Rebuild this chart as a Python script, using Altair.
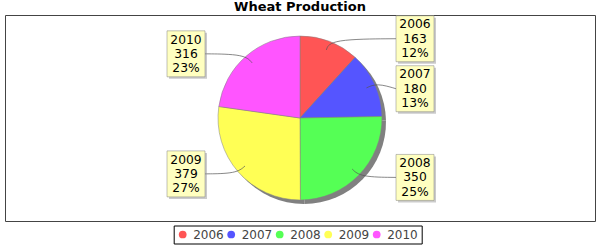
import math
import altair as alt
import pandas as pd

# ---- data ----
years = ["2006", "2007", "2008", "2009", "2010"]
values = [163, 180, 350, 379, 316]
colors = ["#FF5555", "#5555FF", "#55FF55", "#FFFF55", "#FF55FF"]
title_text = "Wheat Production"

# ---- layout (canvas 600x250) ----
W, H = 600, 250
PL, PT, PR, PB = 5, 15, 5, 29
VW, VH = W - PL - PR, H - PT - PB
CX, CY = 300 - PL, 118 - PT      # pie centre in view coords
R = 82                            # pie radius
LABEL_R = 85                      # radius used for label y
LINK_IN = 0.89 * R                # link start inside slice
ELBOW_R = 1.03 * R                # link elbow at pie edge
BOX_W, BOX_H = 38, 46
RIGHT_CX, LEFT_CX = 415 - PL, 186 - PL
MIN_GAP = 50
LINE_H = 14.3

total = sum(values)
recs = []
cum = 0
for i, (yr, v) in enumerate(zip(years, values)):
    a0 = cum / total * 2 * math.pi
    cum += v
    a1 = cum / total * 2 * math.pi
    mid = (a0 + a1) / 2
    pct = round(v / total * 100)
    recs.append(dict(year=yr, value=v, order=i, mid=mid,
                     text=f"{yr}\n{v}\n{pct}%",
                     right=math.sin(mid) >= 0,
                     ly=CY - LABEL_R * math.cos(mid)))

# resolve overlaps on each side
for side in (True, False):
    items = sorted([r for r in recs if r["right"] == side], key=lambda r: r["ly"])
    for j in range(1, len(items)):
        items[j]["ly"] = max(items[j]["ly"], items[j - 1]["ly"] + MIN_GAP)

lab_rows, link_rows = [], []
for r in recs:
    lx = RIGHT_CX if r["right"] else LEFT_CX
    ly = r["ly"]
    bx0, bx1 = lx - BOX_W / 2, lx + BOX_W / 2
    by0, by1 = ly - BOX_H / 2, ly + BOX_H / 2
    lab_rows.append(dict(year=r["year"], text=r["text"], lx=lx, ly=ly,
                         bx0=bx0, bx1=bx1, by0=by0, by1=by1,
                         sx0=bx0 + 2, sx1=bx1 + 2, sy0=by0 + 2, sy1=by1 + 2))
    m = r["mid"]
    sx, sy = CX + LINK_IN * math.sin(m), CY - LINK_IN * math.cos(m)
    ex_, ey_ = CX + ELBOW_R * math.sin(m), CY - ELBOW_R * math.cos(m)
    tx = bx0 if r["right"] else bx1
    pts = [(sx, sy), (ex_, ey_), (tx, ly)]
    for k, (px, py) in enumerate(pts):
        link_rows.append(dict(year=r["year"], idx=k, px=px, py=py))

df = pd.DataFrame({"year": years, "value": values, "order": list(range(len(years)))})
lab_df = pd.DataFrame(lab_rows)
link_df = pd.DataFrame(link_rows)

FONT = "DejaVu Sans"

theta = alt.Theta("value:Q", stack=True)
order = alt.Order("order:Q")

shadow = alt.Chart(df).mark_arc(radius=R, color="#808080").encode(
    theta=theta, order=order, x=alt.value(CX + 4), y=alt.value(CY + 4))

pie = alt.Chart(df).mark_arc(radius=R, stroke="#808080", strokeWidth=0.5).encode(
    theta=theta, order=order, x=alt.value(CX), y=alt.value(CY),
    color=alt.Color("year:N", scale=alt.Scale(domain=years, range=colors),
                    legend=alt.Legend(title=None, orient="none", legendX=168.7, legendY=210.5,
                                      direction="horizontal", strokeColor="black",
                                      fillColor="white", padding=3,
                                      labelFont=FONT, labelFontSize=12, labelColor="#444444",
                                      symbolType="circle", symbolSize=60, symbolStrokeWidth=0,
                                      labelOffset=4.5, columnPadding=0.5)))

px = alt.X("px:Q", scale=None, axis=None)
py = alt.Y("py:Q", scale=None, axis=None)
links = alt.Chart(link_df).mark_line(interpolate="basis", color="#555555", strokeWidth=0.7).encode(
    x=px, y=py, detail="year:N", order="idx:Q")

box_shadow = alt.Chart(lab_df).mark_rect(fill="#979797", opacity=0.5).encode(
    x=alt.X("sx0:Q", scale=None, axis=None), x2="sx1:Q",
    y=alt.Y("sy0:Q", scale=None, axis=None), y2="sy1:Q")

box = alt.Chart(lab_df).mark_rect(fill="#FFFFC0", stroke="#808080", strokeWidth=0.5).encode(
    x=alt.X("bx0:Q", scale=None, axis=None), x2="bx1:Q",
    y=alt.Y("by0:Q", scale=None, axis=None), y2="by1:Q")

text = alt.Chart(lab_df).mark_text(font=FONT, fontSize=12.3, lineBreak="\n", lineHeight=LINE_H,
                                   baseline="middle", align="center", color="black",
                                   dy=-LINE_H).encode(
    x=alt.X("lx:Q", scale=None, axis=None), y=alt.Y("ly:Q", scale=None, axis=None), text="text:N")

chart = alt.layer(shadow, pie, links, box_shadow, box, text).properties(
    width=VW, height=VH,
    padding={"left": PL, "top": PT, "right": PR, "bottom": PB},
    autosize=alt.AutoSizeParams(type="none"),
    title=alt.TitleParams(title_text, font=FONT, fontSize=13, fontWeight="bold",
                          color="black", anchor="middle", offset=1),
    background="white",
).configure_view(stroke="#444444", strokeWidth=1)

chart.save("out.html", embed_options={"renderer": "svg", "actions": False})
